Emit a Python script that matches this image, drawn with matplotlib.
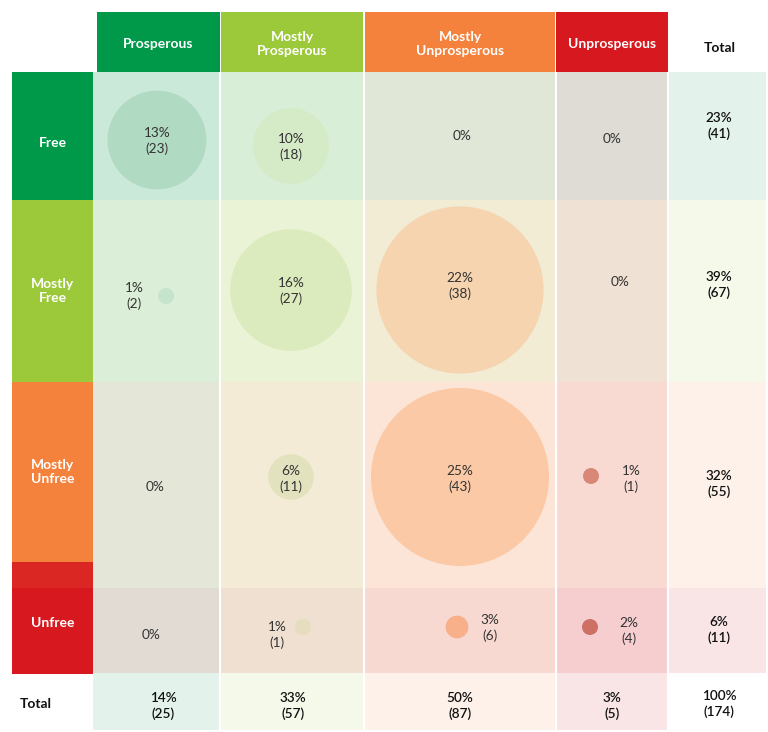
import matplotlib
matplotlib.use("Agg")
import matplotlib.pyplot as plt
from matplotlib.patches import Rectangle, Circle

# ---------------- data ----------------
freedom = ["Free", "Mostly\nFree", "Mostly\nUnfree", "Unfree"]
prosperity = ["Prosperous", "Mostly\nProsperous", "Mostly\nUnprosperous", "Unprosperous"]
counts = [[23, 18, 0, 0],
          [2, 27, 38, 0],
          [0, 11, 43, 1],
          [0, 1, 6, 4]]
pcts = [[13, 10, 0, 0],
        [1, 16, 22, 0],
        [0, 6, 25, 1],
        [0, 1, 3, 2]]
row_tot_pct = [23, 39, 32, 6]
row_tot_n = [41, 67, 55, 11]
col_tot_pct = [14, 33, 50, 3]
col_tot_n = [25, 57, 87, 5]
grand_pct = 100
grand_n = 174

# ---------------- style / layout ----------------
plt.rcParams['font.family'] = ['Lato', 'DejaVu Sans']
cat_colors = ["#00994A", "#9BC93A", "#F5823C", "#D7191F"]
col_edges = [93, 220, 364, 556, 668, 766]
row_edges = [72, 200, 382, 588, 673, 730]
label_edges = [72, 200, 382, 562, 674]
tint = 0.11
circle_colors = {(0, 0): "#B1DAC3", (0, 1): "#D5EBC8", (1, 0): "#C5E4CC",
                 (1, 1): "#DCEBBE", (1, 2): "#F5D4AF", (2, 1): "#E2E3BE",
                 (2, 2): "#FBC9A5", (2, 3): "#D98878", (3, 1): "#E4DDBE",
                 (3, 2): "#F8B08B", (3, 3): "#CE7064"}
# (circle x, circle y, text x, text y) in canvas pixels
pos = {(0, 0): (157, 140, 157, 141), (0, 1): (291, 146, 291, 147),
       (0, 2): (0, 0, 462, 136), (0, 3): (0, 0, 612, 139),
       (1, 0): (166, 296, 134, 296), (1, 1): (291, 290, 291, 291),
       (1, 2): (460, 290, 460, 286), (1, 3): (0, 0, 620, 282),
       (2, 0): (0, 0, 155, 487), (2, 1): (291, 477, 291, 479),
       (2, 2): (460, 477, 460, 479), (2, 3): (591, 476, 631, 479),
       (3, 0): (0, 0, 151, 635), (3, 1): (303, 627, 277, 635),
       (3, 2): (457, 627, 490, 628), (3, 3): (590, 627, 629, 631)}
row_tot_y = [126, 285, 484, 630]
col_tot_x = [163, 293, 460, 612]
tot_x = 719
tot_y = 706


def radius(p, i, j):
    w = col_edges[j + 1] - col_edges[j]
    h = row_edges[i + 1] - row_edges[i]
    return max(8.0, min(3.8 * p, min(w, h) / 2 - 7))


fig = plt.figure(figsize=(7.68, 7.32), dpi=100)
ax = fig.add_axes([0, 0, 1, 1])
ax.set_xlim(0, 768)
ax.set_ylim(732, 0)
ax.axis('off')

# column tints (body + total row)
for j in range(4):
    ax.add_patch(Rectangle((col_edges[j], row_edges[0]), col_edges[j + 1] - col_edges[j],
                           row_edges[-1] - row_edges[0], facecolor=cat_colors[j],
                           alpha=tint, lw=0, zorder=1))
# row tints (body + total column)
for i in range(4):
    ax.add_patch(Rectangle((col_edges[0], row_edges[i]), col_edges[-1] - col_edges[0],
                           row_edges[i + 1] - row_edges[i], facecolor=cat_colors[i],
                           alpha=tint, lw=0, zorder=1))
# white separators between columns
for x in col_edges[1:-1]:
    ax.plot([x, x], [row_edges[0], row_edges[-1]], color="white", lw=1.5, zorder=2)

# headers
hdr_x = [(97, 220), (221, 363), (365, 555), (556, 668)]
for j, lab in enumerate(prosperity):
    x0, x1 = hdr_x[j]
    ax.add_patch(Rectangle((x0, 12), x1 - x0, 60, facecolor=cat_colors[j], lw=0, zorder=3))
    ax.text((x0 + x1) / 2, 44, lab, color="white", fontsize=10, fontweight='bold',
            ha='center', va='center', linespacing=1.25, zorder=4)
ax.text(720, 48, "Total", color="#111111", fontsize=10, fontweight='bold',
        ha='center', va='center', zorder=4)

# row labels
for i, lab in enumerate(freedom):
    y0, y1 = label_edges[i], label_edges[i + 1]
    ax.add_patch(Rectangle((12, y0), 81, y1 - y0, facecolor=cat_colors[i], lw=0, zorder=3))
ax.add_patch(Rectangle((12, 562), 81, 26, facecolor="#DB2723", lw=0, zorder=3))
label_y = [143, 291, 472, 623]
for i, lab in enumerate(freedom):
    ax.text(53, label_y[i], lab, color="white", fontsize=10, fontweight='bold',
            ha='center', va='center', linespacing=1.25, zorder=4)
ax.text(20, 704, "Total", color="#111111", fontsize=10, fontweight='bold',
        ha='left', va='center', zorder=4)

# cells
for i in range(4):
    for j in range(4):
        cxp, cyp, tx, ty = pos[(i, j)]
        n = counts[i][j]
        if n > 0:
            ax.add_patch(Circle((cxp, cyp), radius(pcts[i][j], i, j),
                                facecolor=circle_colors[(i, j)], lw=0, zorder=5))
            s = f"{pcts[i][j]}%\n({n})"
        else:
            s = f"{pcts[i][j]}%"
        ax.text(tx, ty, s, color="#333333", fontsize=9.8, ha='center', va='center',
                linespacing=1.35, zorder=6)

# totals
for i in range(4):
    ax.text(tot_x, row_tot_y[i], f"{row_tot_pct[i]}%\n({row_tot_n[i]})", color="#111111",
            fontsize=9.8, fontweight='semibold', ha='center', va='center',
            linespacing=1.35, zorder=6)
for j in range(4):
    ax.text(col_tot_x[j], tot_y, f"{col_tot_pct[j]}%\n({col_tot_n[j]})", color="#111111",
            fontsize=9.8, fontweight='semibold', ha='center', va='center',
            linespacing=1.35, zorder=6)
ax.text(tot_x, 704, f"{grand_pct}%\n({grand_n})", color="#111111", fontsize=9.8,
        fontweight='semibold', ha='center', va='center', linespacing=1.35, zorder=6)

fig.savefig("out.png", dpi=100)
